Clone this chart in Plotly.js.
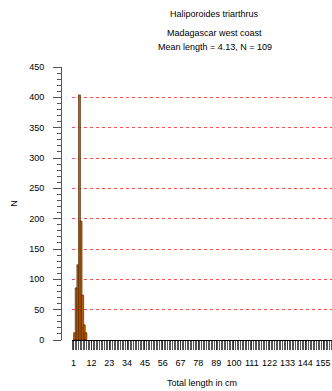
<!DOCTYPE html>
<html><head><meta charset="utf-8">
<script src="https://cdn.plot.ly/plotly-3.0.1.min.js"></script>
<style>html,body{margin:0;padding:0;background:#fff;}#chart{width:332px;height:391px;}</style>
</head><body><div id="chart"></div>
<script>
const lengths = [1, 2, 3, 4, 5, 6, 7, 8];
const counts = [12, 86, 124, 404, 196, 74, 25, 12];
const titleLines = ["Haliporoides triarthrus", "Madagascar west coast", "Mean length = 4.13, N = 109"];
const xTitle = "Total length in cm";
const yTitle = "N";

const font = {family: "Liberation Sans, Arial, sans-serif", size: 9, color: "#000"};

const trace = {
  type: "bar",
  x: lengths,
  y: counts,
  offset: 0,
  width: 1.2,
  marker: {color: "#c86400", line: {color: "#3a1a00", width: 0.6}},
  hoverinfo: "skip"
};

const titleY = [1.194, 1.125, 1.073];
const annotations = titleLines.map((t, i) => ({
  text: t, xref: "paper", yref: "paper", x: 0.568, y: titleY[i],
  xanchor: "center", yanchor: "middle", showarrow: false, font: font
}));

const layout = {
  width: 332, height: 391,
  margin: {l: 61, r: 0, t: 67, b: 51},
  paper_bgcolor: "#fff", plot_bgcolor: "#fff",
  font: font,
  showlegend: false,
  bargap: 0,
  annotations: annotations,
  xaxis: {
    domain: [11/271, 1],
    range: [0, 160.5],
    tickmode: "linear", tick0: 1, dtick: 11,
    ticks: "outside", ticklen: 9, tickcolor: "#333", tickwidth: 1,
    minor: {dtick: 1, tick0: 0, ticks: "outside", ticklen: 9, tickcolor: "#555", tickwidth: 1, showgrid: false},
    showgrid: false, zeroline: false,
    showline: true, linecolor: "#000", linewidth: 1,
    tickfont: font,
    ticklabelstandoff: 5,
    title: {text: xTitle, font: font, standoff: 12}
  },
  yaxis: {
    anchor: "free", position: 0,
    range: [0, 450],
    tickmode: "linear", tick0: 0, dtick: 50,
    ticks: "outside", ticklen: 8, tickcolor: "#555", tickwidth: 1,
    minor: {dtick: 10, ticks: "outside", ticklen: 4, tickcolor: "#555", tickwidth: 1, showgrid: false},
    showgrid: true, gridcolor: "#ff5050", griddash: "3px,3px", gridwidth: 1,
    zeroline: false,
    showline: true, linecolor: "#555", linewidth: 1,
    tickfont: font,
    ticklabelstandoff: 7,
    title: {text: yTitle, font: font, standoff: 9}
  }
};

Plotly.newPlot("chart", [trace], layout, {displayModeBar: false, staticPlot: true});
</script>
</body></html>
